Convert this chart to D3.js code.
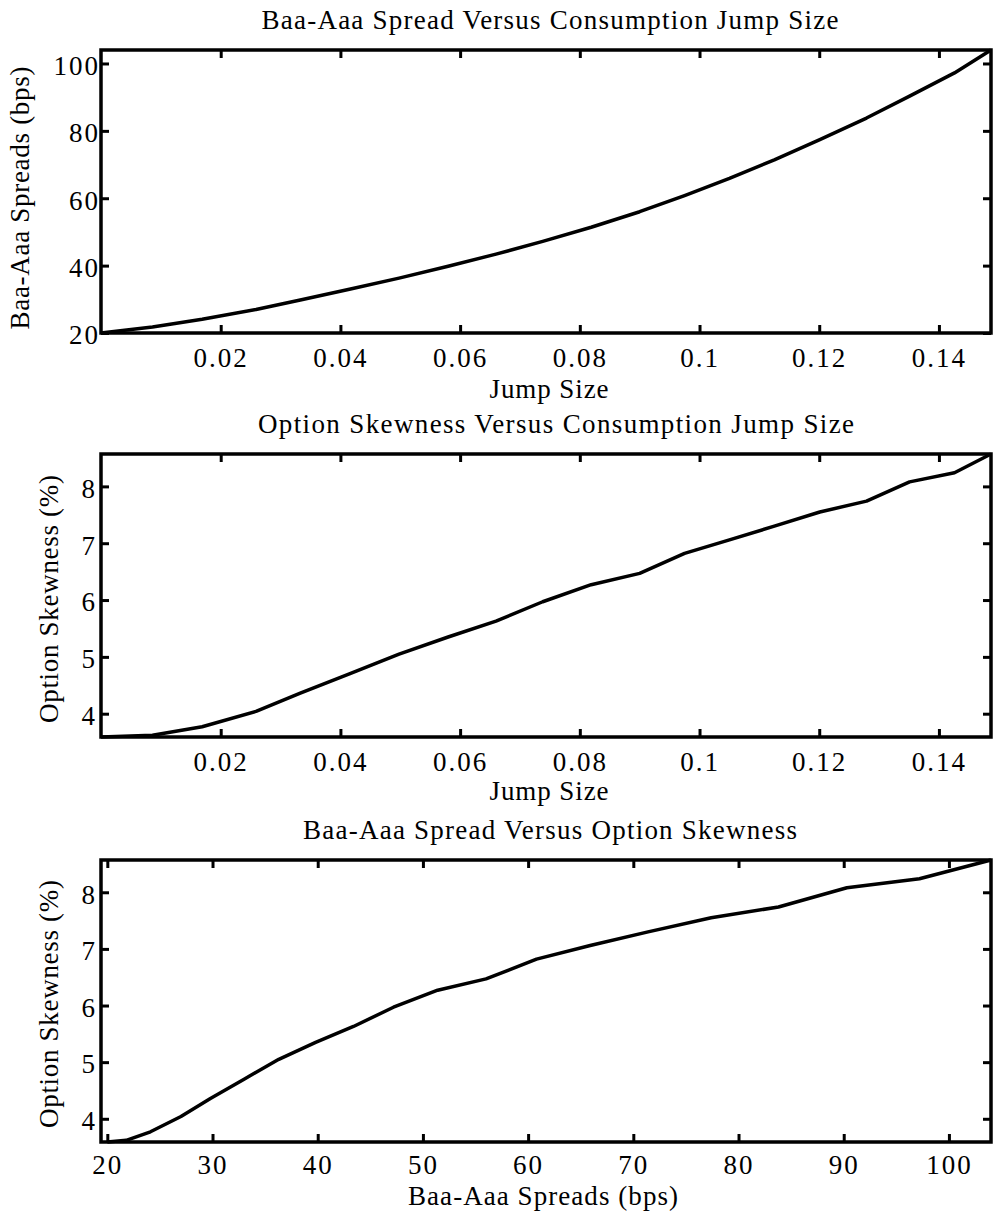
<!DOCTYPE html>
<html>
<head>
<meta charset="utf-8">
<script src="https://cdn.jsdelivr.net/npm/d3@7"></script>
<style>
  html, body { margin: 0; padding: 0; background: #fff; }
  svg { display: block; }
  svg text { font-family: "Times New Roman", "Liberation Serif", Times, serif; }
</style>
</head>
<body>
<div id="chart"></div>
<script>
/* ===== Data ===== */

// Consumption jump size (x of panels 1 and 2)
const jumpSize = [0, 0.0086, 0.0169, 0.0259, 0.0333, 0.0415, 0.0498, 0.0580, 0.0660, 0.0738,
  0.0819, 0.0900, 0.0975, 0.1050, 0.1125, 0.1201, 0.1279, 0.1351, 0.1426, 0.1487];
// Baa-Aaa spread, bps
const spreadBps = [20.0, 21.8, 24.1, 27.0, 29.8, 33.0, 36.3, 39.8, 43.4, 47.2,
  51.4, 56.0, 60.8, 65.9, 71.4, 77.4, 83.8, 90.3, 97.2, 104.0];
// Option skewness, %
const skewPct = [3.59, 3.62, 3.77, 4.04, 4.36, 4.70, 5.05, 5.35, 5.63, 5.97,
  6.27, 6.47, 6.82, 7.06, 7.30, 7.55, 7.74, 8.08, 8.24, 8.57];

// Axis limits and ticks
const jumpLim = [0, 0.1487];
const spreadLim = [20, 104];
const spreadLimX = [19.4, 104];
const skewLim = [3.59, 8.57];
const jumpTicks = [0.02, 0.04, 0.06, 0.08, 0.1, 0.12, 0.14];
const spreadTicksY = [20, 40, 60, 80, 100];
const spreadTicksX = [20, 30, 40, 50, 60, 70, 80, 90, 100];
const skewTicks = [4, 5, 6, 7, 8];

const titles = [
  'Baa-Aaa Spread Versus Consumption Jump Size',
  'Option Skewness Versus Consumption Jump Size',
  'Baa-Aaa Spread Versus Option Skewness'
];

/* ===== Layout ===== */

const W = 994, H = 1217;
const left = 101, right = 991;
const fontSize = 27;
const serif = '"Times New Roman", "Liberation Serif", Times, serif';

const svg = d3.select('#chart').append('svg')
  .attr('width', W)
  .attr('height', H);

const panels = [
  {
    top: 50, bottom: 333,
    xs: jumpSize, ys: spreadBps, xDom: jumpLim, yDom: spreadLim,
    xTicks: jumpTicks, yTicks: spreadTicksY,
    xFmt: d3.format(''), title: titles[0], titleX: 550, titleLen: 577,
    xLabel: 'Jump Size', xLabelX: 549, xLabelY: 398, xLabelLen: 119,
    yLabel: 'Baa-Aaa Spreads (bps)', yLabelX: 29, yLabelY: 198, yLabelLen: 263,
    yTickPad: 1, xTickPad: 15
  },
  {
    top: 454, bottom: 737,
    xs: jumpSize, ys: skewPct, xDom: jumpLim, yDom: skewLim,
    xTicks: jumpTicks, yTicks: skewTicks,
    xFmt: d3.format(''), title: titles[1], titleX: 556, titleLen: 596,
    xLabel: 'Jump Size', xLabelX: 549, xLabelY: 800, xLabelLen: 119,
    yLabel: 'Option Skewness (%)', yLabelX: 58, yLabelY: 599, yLabelLen: 248,
    yTickPad: 4, xTickPad: 15
  },
  {
    top: 860, bottom: 1142,
    xs: spreadBps, ys: skewPct, xDom: spreadLimX, yDom: skewLim,
    xTicks: spreadTicksX, yTicks: skewTicks,
    xFmt: d3.format('d'), title: titles[2], titleX: 550, titleLen: 494,
    xLabel: 'Baa-Aaa Spreads (bps)', xLabelX: 543, xLabelY: 1205, xLabelLen: 270,
    yLabel: 'Option Skewness (%)', yLabelX: 58, yLabelY: 1004, yLabelLen: 248,
    yTickPad: 4, xTickPad: 13
  }
];

/* ===== Draw each panel ===== */

panels.forEach(p => {
  const x = d3.scaleLinear().domain(p.xDom).range([left, right]);
  const y = d3.scaleLinear().domain(p.yDom).range([p.bottom, p.top]);
  const g = svg.append('g');

  // Bottom axis with labels, ticks pointing inward
  const bx = g.append('g')
    .attr('transform', `translate(0,${p.bottom})`)
    .call(d3.axisBottom(x).tickValues(p.xTicks).tickFormat(p.xFmt)
      .tickSizeInner(-8).tickSizeOuter(0).tickPadding(p.xTickPad));
  // Top mirrored ticks
  const tx = g.append('g')
    .attr('transform', `translate(0,${p.top})`)
    .call(d3.axisTop(x).tickValues(p.xTicks).tickFormat('')
      .tickSizeInner(-8).tickSizeOuter(0));
  // Left axis with labels
  const ly = g.append('g')
    .attr('transform', `translate(${left},0)`)
    .call(d3.axisLeft(y).tickValues(p.yTicks).tickFormat(d3.format('d'))
      .tickSizeInner(-8).tickSizeOuter(0).tickPadding(p.yTickPad));
  // Right mirrored ticks
  const ry = g.append('g')
    .attr('transform', `translate(${right},0)`)
    .call(d3.axisRight(y).tickValues(p.yTicks).tickFormat('')
      .tickSizeInner(-8).tickSizeOuter(0));

  [bx, tx, ly, ry].forEach(a => {
    a.attr('font-family', serif);
    a.select('.domain').remove();
    a.selectAll('line').attr('stroke', '#000').attr('stroke-width', 3);
    a.selectAll('text')
      .attr('fill', '#000')
      .style('font-size', fontSize + 'px')
      .style('letter-spacing', '2px');
  });
  ly.selectAll('text').attr('dy', '0.4em');

  // Curve
  const pts = p.xs.map((d, i) => [d, p.ys[i]]);
  const line = d3.line()
    .x(d => x(d[0]))
    .y(d => y(d[1]));
  g.append('path')
    .datum(pts)
    .attr('d', line)
    .attr('fill', 'none')
    .attr('stroke', '#000')
    .attr('stroke-width', 3.5)
    .attr('stroke-linejoin', 'round');

  // Frame
  g.append('rect')
    .attr('x', left).attr('y', p.top)
    .attr('width', right - left).attr('height', p.bottom - p.top)
    .attr('fill', 'none')
    .attr('stroke', '#000')
    .attr('stroke-width', 3.5);

  // Title
  g.append('text')
    .attr('x', p.titleX).attr('y', p.top - 21)
    .attr('text-anchor', 'middle')
    .attr('textLength', p.titleLen).attr('lengthAdjust', 'spacing')
    .style('font-size', fontSize + 'px')
    .text(p.title);

  // X label
  g.append('text')
    .attr('x', p.xLabelX).attr('y', p.xLabelY)
    .attr('text-anchor', 'middle')
    .attr('textLength', p.xLabelLen).attr('lengthAdjust', 'spacing')
    .style('font-size', fontSize + 'px')
    .text(p.xLabel);

  // Y label
  g.append('text')
    .attr('transform', `translate(${p.yLabelX},${p.yLabelY}) rotate(-90)`)
    .attr('text-anchor', 'middle')
    .attr('textLength', p.yLabelLen).attr('lengthAdjust', 'spacing')
    .style('font-size', fontSize + 'px')
    .text(p.yLabel);
});
</script>
</body>
</html>
